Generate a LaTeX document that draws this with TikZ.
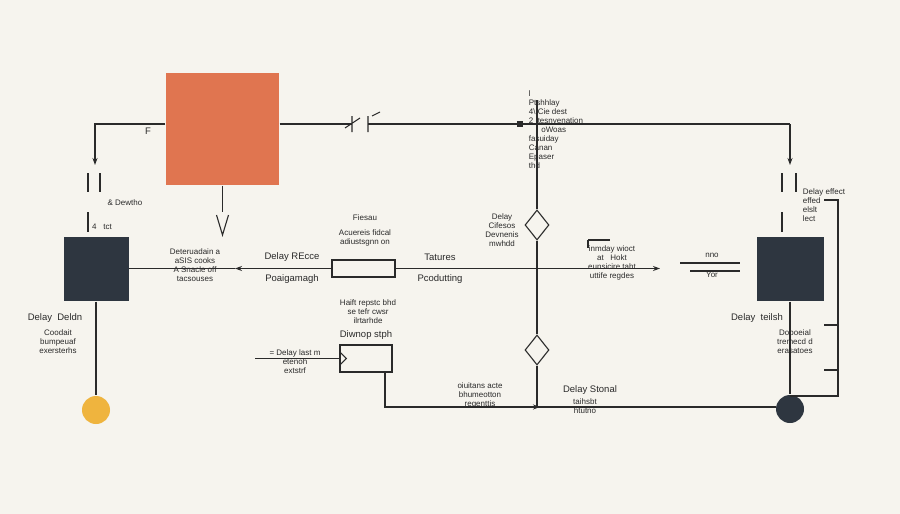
\documentclass[tikz,border=0pt]{standalone}
\usepackage{fontspec}
\setmainfont{Liberation Sans}
\usetikzlibrary{shapes.geometric,arrows.meta}
\definecolor{bg}{HTML}{F6F4EE}
\definecolor{org}{HTML}{E07550}
\definecolor{drk}{HTML}{2E3640}
\definecolor{ylw}{HTML}{EFB43E}
\definecolor{ink}{HTML}{2A2A2A}
\begin{document}
\begin{tikzpicture}[x=1pt,y=-1pt,line width=1.1pt,draw=ink,
  txt/.style={font=\fontsize{8}{9}\selectfont,align=center,inner sep=1pt,text=ink},
  big/.style={font=\fontsize{9.5}{10.5}\selectfont,inner sep=1pt,text=ink},
  arr/.style={-{Stealth[length=7pt,width=5pt]}}]
\fill[bg] (0,0) rectangle (900,514);
\useasboundingbox (0,0) rectangle (900,514);
% blocks
\node[fill=org,minimum width=113pt,minimum height=112pt,inner sep=0](src) at (222.5,129) {};
\node[fill=drk,minimum width=65pt,minimum height=64pt,inner sep=0](L) at (96,269) {};
\node[fill=drk,minimum width=67pt,minimum height=64pt,inner sep=0](R) at (790,269) {};
\node[draw,minimum width=63pt,minimum height=17pt,inner sep=0](mid) at (363.5,268.5) {};
\node[draw,minimum width=52pt,minimum height=27pt,inner sep=0](low) at (366,358.5) {};
\node[circle,fill=ylw,minimum size=28pt,inner sep=0](in) at (96,410) {};
\node[circle,fill=drk,minimum size=28pt,inner sep=0](out) at (790,409) {};
\node[diamond,draw,fill=bg,minimum width=24pt,minimum height=30pt,inner sep=0](d1) at (537,225) {};
\node[diamond,draw,fill=bg,minimum width=24pt,minimum height=30pt,inner sep=0](d2) at (537,350) {};
\node[draw,fill=ink,minimum size=5pt,inner sep=0](j) at (520,124) {};
\coordinate (tl) at (95,124); \coordinate (tr) at (790,124);
\coordinate (top) at (537,100); \coordinate (bl) at (385,407); \coordinate (br) at (776,407);
% connectors
\draw[arr] (src.west|-tl) -- (tl) -- (95,165);
\draw (src.east|-tr) -- (352,124) (368,124) -- (j) -- (tr);
\draw[arr] (tr) -- (790,165);
\draw (352,116) -- (352,132) (368,116) -- (368,132) (345,128) -- (360,118) (372,116)--(380,112);
\draw (top) -- (d1) -- (d2) -- (537,407);
\draw (src.south) -- (222.5,212);
\draw (216.5,215) -- (222.5,235) -- (228.5,215);
\draw[arr] (mid.west) -- (235,268.5);
\draw (235,268.5) -- (L.east|-mid);
\draw[arr] (mid.east) -- (660,268.5);
\draw (680,263) -- (740,263) (690,271) -- (740,271);
\draw (L.south) -- (in.north);
\draw (R.south) -- (out.north);
\draw (low.south-|bl) -- (bl) -- (br);
\draw[arr] (520,407) -- (540,407);
\draw (255,358.5) -- (low.west);
\draw (low.west) ++(0,-7) -- ++(7,7) -- ++(-7,7);
\draw (88,173) -- (88,192) (100,173) -- (100,192) (88,212) -- (88,232);
\draw (782,173) -- (782,192) (796,173) -- (796,192) (782,212) -- (782,232);
\draw (R.east|-0,200) -- (838,200) -- (838,396) -- (790,396);
\draw (824,370) -- (838,370) (824,325) -- (838,325);
\draw (588,240) -- (588,248) (588,240) -- (610,240);
% texts
\node[big] (tF) at (148,131) {F};
\node[txt] at (125,203) {\& Dewtho};
\node[txt] at (102,227) {4 \ \ tct};
\node[txt] at (195,265) {Deteruadain a\\ aSIS cooks\\ A Snacle off\\ tacsouses};
\node[big] at (292,257) {Delay REcce};
\node[big] at (292,279) {Poaigamagh};
\node[txt] at (365,218) {Fiesau};
\node[txt] at (365,238) {Acuereis fidcal\\ adiustsgnn on};
\node[big] at (440,257) {Tatures};
\node[big] at (440,279) {Pcodutting};
\node[txt] at (368,312) {Haift repstc bhd\\ se tefr cwsr\\ ilrtarhde};
\node[big] at (366,335) {Diwnop stph};
\node[txt] at (295,362) {= Delay last m\\ etenoh\\ extstrf};
\node[txt] at (502,230) {Delay\\ Cifesos\\ Devnenis\\ mwhdd};
\node[txt,align=left] at (556,130) {l\\ Ptshhlay\\ 4\textbackslash\ Cie dest\\ 2 \ tesnyenation\\ \quad\ \ oWoas\\ fasuiday\\ Canan\\ Epaser\\ thd};
\node[txt] at (612,263) {inmday wioct\\ at \ \ Hokt\\ eunsicire taht\\ uttife regdes};
\node[txt] at (712,255) {nno};
\node[txt] at (712,275) {Yor};
\node[txt,align=left] at (824,205) {Delay effect\\ effed\\ elslt\\ lect};
\node[big] at (757,318) {Delay \ teilsh};
\node[txt] at (795,342) {Dopoeial\\ tremecd d\\ erasatoes};
\node[big] at (55,318) {Delay \ Deldn};
\node[txt] at (58,342) {Coodait\\ bumpeuaf\\ exersterhs};
\node[txt] at (480,395) {oiuitans acte\\ bhumeotton\\ regenttis};
\node[big] at (590,390) {Delay Stonal};
\node[txt] at (585,406) {taihsbt\\ htutno};
\end{tikzpicture}
\end{document}
